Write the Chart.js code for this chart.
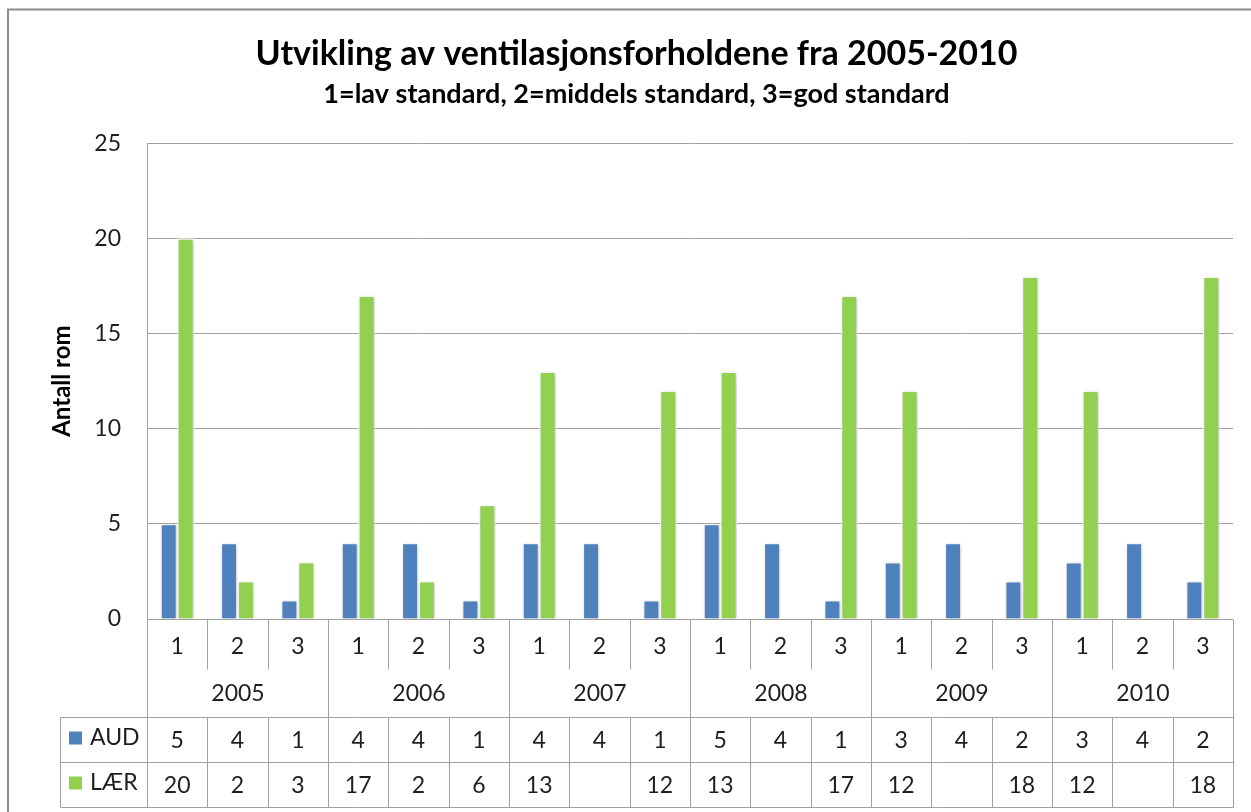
<!DOCTYPE html>
<html>
<head>
<meta charset="utf-8">
<script src="https://cdn.jsdelivr.net/npm/chart.js@4/dist/chart.umd.min.js"></script>
<style>
  html, body { margin: 0; padding: 0; background: #fff; }
  #wrap { width: 1251px; height: 812px; }
</style>
</head>
<body>
<div id="wrap"><canvas id="ventChart" width="1251" height="812"></canvas></div>
<script>
// Data
const years = ['2005', '2006', '2007', '2008', '2009', '2010']
const standards = ['1', '2', '3']
const audValues = [5, 4, 1, 4, 4, 1, 4, 4, 1, 5, 4, 1, 3, 4, 2, 3, 4, 2]
const laerValues = [20, 2, 3, 17, 2, 6, 13, null, 12, 13, null, 17, 12, null, 18, 12, null, 18]
const yTicks = [0, 5, 10, 15, 20, 25]

const FONT = 'Lato, "Open Sans", sans-serif'
const TEXT = '#1e1e1e'
const LINE = '#a0a0a0'
const BLUE = '#4f81bd'
const GREEN = '#92d050'

// one label per bar group: year + standard
const labels = []
years.forEach(y => standards.forEach(s => labels.push(y + ' ' + s)))

// soft shadow behind bars, like the Excel look
const barShadow = {
  id: 'barShadow',
  beforeDatasetsDraw(chart) {
    const ctx = chart.ctx
    ctx.save()
    ctx.shadowColor = 'rgba(0,0,0,0.22)'
    ctx.shadowBlur = 4
    ctx.shadowOffsetX = 1
    ctx.shadowOffsetY = 1
  },
  afterDatasetsDraw(chart) {
    chart.ctx.restore()
  }
}

// frame + category rows + data table under the plot
const dataTable = {
  id: 'dataTable',
  beforeDraw(chart) {
    const ctx = chart.ctx
    ctx.save()
    ctx.strokeStyle = '#8c8c8c'
    ctx.lineWidth = 2
    ctx.beginPath()
    ctx.moveTo(8, chart.height)
    ctx.lineTo(8, 9.5)
    ctx.lineTo(chart.width, 9.5)
    ctx.stroke()
    ctx.restore()
  },
  afterDraw(chart) {
    const ctx = chart.ctx
    const x = chart.scales.x
    const area = chart.chartArea
    const n = labels.length
    const w = (x.right - x.left) / n
    const edge = i => Math.round(x.getPixelForValue(0) - w / 2 + i * w) + 0.5

    const top = Math.round(area.bottom) + 0.5
    const catBottom = top + 50
    const row1 = top + 98
    const row2 = row1 + 45
    const row3 = row2 + 45
    const tableLeft = 60.5

    ctx.save()
    ctx.strokeStyle = LINE
    ctx.lineWidth = 1
    ctx.beginPath()
    // vertical lines
    for (let i = 0; i <= n; i++) {
      const px = edge(i)
      const yearEdge = i % standards.length === 0
      ctx.moveTo(px, top)
      ctx.lineTo(px, yearEdge ? row3 : catBottom)
      if (!yearEdge) {
        ctx.moveTo(px, row1)
        ctx.lineTo(px, row3)
      }
    }
    ctx.moveTo(tableLeft, row1)
    ctx.lineTo(tableLeft, row3)
    // horizontal lines
    ;[row1, row2, row3].forEach(yy => {
      ctx.moveTo(tableLeft, yy)
      ctx.lineTo(edge(n), yy)
    })
    ctx.stroke()

    ctx.fillStyle = TEXT
    ctx.font = '23px ' + FONT
    ctx.textAlign = 'center'
    ctx.textBaseline = 'middle'
    // standard labels
    for (let i = 0; i < n; i++) {
      const cx = x.getPixelForValue(i)
      ctx.fillText(standards[i % standards.length], cx, top + 27)
      ctx.fillText(String(audValues[i]), cx, row1 + 23)
      if (laerValues[i] !== null) ctx.fillText(String(laerValues[i]), cx, row2 + 23)
    }
    // year labels
    years.forEach((yr, j) => {
      const cx = (edge(j * 3) + edge(j * 3 + 3)) / 2
      ctx.fillText(yr, cx, top + 74)
    })
    // legend keys
    ctx.textAlign = 'left'
    ctx.fillStyle = BLUE
    ctx.fillRect(69, row1 + 14, 13, 13)
    ctx.fillStyle = GREEN
    ctx.fillRect(69, row2 + 14, 13, 13)
    ctx.fillStyle = TEXT
    ctx.fillText('AUD', 90, row1 + 20)
    ctx.fillText('LÆR', 90, row2 + 20)
    ctx.restore()
  }
}

const chartCanvas = document.querySelector('#ventChart')

const ventChart = new Chart(chartCanvas, {
  type: 'bar',
  data: {
    labels: labels,
    datasets: [
      {
        label: 'AUD',
        data: audValues,
        backgroundColor: BLUE,
        borderColor: '#ffffff',
        borderWidth: 1.5
      },
      {
        label: 'LÆR',
        data: laerValues,
        backgroundColor: GREEN,
        borderColor: '#ffffff',
        borderWidth: 1.5
      }
    ]
  },
  options: {
    responsive: false,
    animation: false,
    events: [],
    layout: {
      padding: { left: 40, right: 18, top: 0, bottom: 193 }
    },
    datasets: {
      bar: { categoryPercentage: 0.56, barPercentage: 1.0 }
    },
    plugins: {
      legend: { display: false },
      tooltip: { enabled: false },
      title: {
        display: true,
        text: 'Utvikling av ventilasjonsforholdene fra 2005-2010',
        color: '#000',
        font: { family: FONT, size: 34, weight: 'bold' },
        padding: { top: 34, bottom: 3 }
      },
      subtitle: {
        display: true,
        text: '1=lav standard, 2=middels standard, 3=god standard',
        color: '#000',
        font: { family: FONT, size: 27, weight: 'bold' },
        padding: { top: 0, bottom: 33 }
      }
    },
    scales: {
      x: {
        display: false
      },
      y: {
        min: 0,
        max: 25,
        afterFit(scale) { scale.width = 107 },
        afterBuildTicks(scale) { scale.ticks = yTicks.map(v => ({ value: v })) },
        border: { display: true, color: LINE, width: 1 },
        grid: { color: LINE, lineWidth: 1, drawTicks: false },
        ticks: {
          color: TEXT,
          padding: 26,
          font: { family: FONT, size: 23 }
        },
        title: {
          display: true,
          text: 'Antall rom',
          color: '#000',
          padding: { top: 8, bottom: 0 },
          font: { family: FONT, size: 24, weight: 'bold' }
        }
      }
    }
  },
  plugins: [barShadow, dataTable]
})
</script>
</body>
</html>
